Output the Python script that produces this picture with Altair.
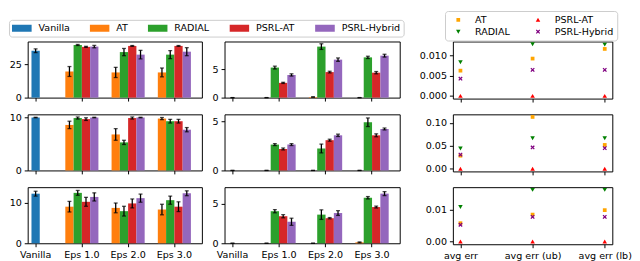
import altair as alt
import pandas as pd

# ---------------- data ----------------
categories = ["Vanilla", "Eps 1.0", "Eps 2.0", "Eps 3.0"]
eps_cats = ["Eps 1.0", "Eps 2.0", "Eps 3.0"]
methods = ["AT", "RADIAL", "PSRL-AT", "PSRL-Hybrid"]
bar_series = ["Vanilla", "AT", "RADIAL", "PSRL-AT", "PSRL-Hybrid"]
bar_colors = ["#1f77b4", "#ff7f0e", "#2ca02c", "#d62728", "#9467bd"]

metrics = ["avg err", "avg err (ub)", "avg err (lb)"]
pt_order = ["AT", "PSRL-AT", "RADIAL", "PSRL-Hybrid"]
pt_colors = ["#ffa500", "#ff0000", "#008000", "#800080"]
# small marker outlines inside a 20px symbol box (like matplotlib's legend handle)
SQ = "M-0.19,-0.19H0.19V0.19H-0.19Z"
TRI_UP = "M-0.23,0.19L0.23,0.19L0,-0.21Z"
TRI_DN = "M-0.23,-0.19L0.23,-0.19L0,0.21Z"
XMARK = ("M-0.22,-0.132L-0.132,-0.22L0,-0.088L0.132,-0.22L0.22,-0.132L0.088,0L0.22,0.132"
         "L0.132,0.22L0,0.088L-0.132,0.22L-0.22,0.132L-0.088,0Z")
pt_shapes = [SQ, TRI_UP, TRI_DN, XMARK]
PATCH = "M-1,-0.35H1V0.35H-1Z"

# left column, rows 1-3
L_vanilla = [35.0, 10.0, 12.2]
L_vanilla_err = [1.4, 0.05, 0.6]
L1_mean = {"AT": [19.5, 18.8, 18.8], "RADIAL": [39.3, 34.0, 32.1], "PSRL-AT": [37.9, 38.6, 38.6], "PSRL-Hybrid": [38.1, 32.1, 34.3]}
L1_err = {"AT": [3.7, 3.8, 3.3], "RADIAL": [0.4, 2.7, 3.0], "PSRL-AT": [0.4, 0.3, 0.3], "PSRL-Hybrid": [0.9, 3.2, 3.0]}
L2_mean = {"AT": [8.6, 6.8, 9.8], "RADIAL": [9.9, 5.3, 9.3], "PSRL-AT": [9.7, 9.9, 9.3], "PSRL-Hybrid": [10.0, 10.0, 7.7]}
L2_err = {"AT": [0.7, 1.1, 0.2], "RADIAL": [0.2, 0.4, 0.35], "PSRL-AT": [0.25, 0.2, 0.35], "PSRL-Hybrid": [0.05, 0.05, 0.4]}
L3_mean = {"AT": [9.0, 8.7, 8.3], "RADIAL": [12.4, 7.9, 10.6], "PSRL-AT": [10.2, 9.8, 9.0], "PSRL-Hybrid": [11.4, 11.1, 12.3]}
L3_err = {"AT": [1.3, 1.2, 1.3], "RADIAL": [0.6, 1.2, 1.0], "PSRL-AT": [1.1, 1.1, 1.2], "PSRL-Hybrid": [1.0, 1.0, 0.6]}

# middle column, rows 1-3
M_vanilla = [0.0, 0.0, 0.0]
M_vanilla_err = [0.0, 0.0, 0.0]
M1_mean = {"AT": [0.0, 0.1, 0.0], "RADIAL": [5.3, 9.0, 7.1], "PSRL-AT": [2.6, 4.5, 4.4], "PSRL-Hybrid": [4.0, 6.7, 7.4]}
M1_err = {"AT": [0.0, 0.05, 0.0], "RADIAL": [0.25, 0.5, 0.2], "PSRL-AT": [0.1, 0.15, 0.2], "PSRL-Hybrid": [0.2, 0.3, 0.25]}
M2_mean = {"AT": [0.0, 0.0, 0.0], "RADIAL": [2.65, 2.25, 4.94], "PSRL-AT": [2.2, 3.1, 3.6], "PSRL-Hybrid": [2.65, 3.6, 4.25]}
M2_err = {"AT": [0.0, 0.0, 0.0], "RADIAL": [0.1, 0.45, 0.44], "PSRL-AT": [0.1, 0.1, 0.15], "PSRL-Hybrid": [0.1, 0.12, 0.1]}
M3_mean = {"AT": [0.0, 0.0, 0.12], "RADIAL": [4.03, 3.6, 5.72], "PSRL-AT": [3.4, 3.15, 4.55], "PSRL-Hybrid": [2.7, 3.8, 6.24]}
M3_err = {"AT": [0.0, 0.0, 0.05], "RADIAL": [0.2, 0.6, 0.15], "PSRL-AT": [0.2, 0.08, 0.12], "PSRL-Hybrid": [0.45, 0.3, 0.25]}

L_ymax = [41.9, 10.6, 13.8]
L_ticks = [[0, 25], [0, 10], [0, 10]]
M_ymax = [9.9, 5.75, 7.05]
M_ticks = [[0, 5], [0, 5], [0, 5]]

# right column, rows 1-3
R1_vals = {"AT": [0.0063, 0.0093, 0.0117], "RADIAL": [0.0084, 0.0129, 0.0128], "PSRL-AT": [0.0, 0.0, 0.0], "PSRL-Hybrid": [0.0043, 0.0065, 0.0065]}
R2_vals = {"AT": [0.0286, 0.113, 0.052], "RADIAL": [0.0446, 0.0666, 0.0666], "PSRL-AT": [0.0, 0.0, 0.0], "PSRL-Hybrid": [0.031, 0.0466, 0.045]}
R3_vals = {"AT": [0.0058, 0.0085, 0.0099], "RADIAL": [0.0109, 0.0163, 0.0163], "PSRL-AT": [0.0, 0.0, 0.0], "PSRL-Hybrid": [0.0053, 0.0078, 0.0078]}
R_ticks = [[0, 0.005, 0.01], [0, 0.05, 0.1], [0, 0.01]]
R_fmt = [".3f", ".2f", ".2f"]

# ---------------- layout ----------------
WL, WM, WR = 177, 178, 162
H_BAR, H_PT = 57, 58
SPACER_W = 8
FONT = "DejaVu Sans"
FS = 9.7


def band_range(w):
    step = 0.2655 * w
    bw = 0.19 * w
    p = 1 - bw / step
    r0 = 0.0455 * w - bw / 2
    r1 = r0 + step * (4 - p)
    return [r0, r1], p


left_legend = alt.Legend(
    orient="none", legendX=-19, legendY=-22, direction="horizontal", columns=5,
    title=None, symbolType=PATCH, symbolSize=400, clipHeight=11,
    labelOffset=7, columnPadding=20, padding=3, strokeColor="#cccccc",
    fillColor="white", cornerRadius=3, symbolStrokeWidth=0,
    labelFont=FONT, labelFontSize=FS, labelColor="black",
)

right_legend = alt.Legend(
    orient="none", legendX=-8, legendY=-31, direction="horizontal", columns=2,
    title=None, symbolSize=400, clipHeight=11, labelOffset=7, columnPadding=18,
    rowPadding=1, padding=3.5, strokeColor="#cccccc", fillColor="white",
    cornerRadius=3, symbolStrokeWidth=0,
    labelFont=FONT, labelFontSize=FS, labelColor="black",
)


def bar_panel(van_mean, van_err, means, errs, ymax, yticks, width, show_labels, legend):
    van_df = pd.DataFrame({"cat": ["Vanilla"], "series": ["Vanilla"], "val": [van_mean],
                           "lo": [van_mean - van_err], "hi": [van_mean + van_err]})
    rows = []
    for m in methods:
        for c, v, e in zip(eps_cats, means[m], errs[m]):
            rows.append({"cat": c, "series": m, "val": v, "lo": v - e, "hi": v + e})
    eps_df = pd.DataFrame(rows)

    rng, pin = band_range(width)
    x = alt.X("cat:N", title=None,
              scale=alt.Scale(domain=categories, range=rng, paddingInner=pin, paddingOuter=0),
              axis=alt.Axis(labels=show_labels, labelAngle=0, title=None))
    yscale = alt.Scale(domain=[0, ymax], nice=False, zero=True)
    yaxis = alt.Axis(values=yticks, title=None)

    def Y(f):
        return alt.Y(f"{f}:Q", scale=yscale, axis=yaxis, title=None)

    color = alt.Color("series:N", scale=alt.Scale(domain=bar_series, range=bar_colors),
                      legend=legend)
    xo = alt.XOffset("series:N", scale=alt.Scale(domain=methods, paddingInner=0, paddingOuter=0))

    vb = alt.Chart(van_df)
    eb = alt.Chart(eps_df)
    cap = dict(orient="horizontal", size=4, thickness=1.3, color="black")
    layers = [
        vb.mark_bar(width=alt.RelativeBandSize(0.25)).encode(x=x, y=Y("val"), color=color),
        eb.mark_bar().encode(x=x, xOffset=xo, y=Y("val"), color=color),
        vb.mark_rule(color="black", strokeWidth=1.3).encode(x=x, y=Y("lo"), y2="hi:Q"),
        eb.mark_rule(color="black", strokeWidth=1.3).encode(x=x, xOffset=xo, y=Y("lo"), y2="hi:Q"),
        vb.mark_tick(**cap).encode(x=x, y=Y("lo")),
        vb.mark_tick(**cap).encode(x=x, y=Y("hi")),
        eb.mark_tick(**cap).encode(x=x, xOffset=xo, y=Y("lo")),
        eb.mark_tick(**cap).encode(x=x, xOffset=xo, y=Y("hi")),
    ]
    return alt.layer(*layers).properties(width=width, height=H_BAR)


def point_panel(vals, yticks, fmt, show_labels, legend):
    rows = []
    for m in methods:
        for k, v in zip(metrics, vals[m]):
            rows.append({"metric": k, "series": m, "val": v})
    df = pd.DataFrame(rows)
    vmax = max(max(v) for v in vals.values())
    return alt.Chart(df).mark_point(filled=True, size=400, opacity=1).encode(
        x=alt.X("metric:N", title=None,
                scale=alt.Scale(domain=metrics, type="point", padding=0.105),
                axis=alt.Axis(labels=show_labels, labelAngle=0, title=None)),
        y=alt.Y("val:Q", title=None,
                scale=alt.Scale(domain=[-0.05 * vmax, 1.05 * vmax], nice=False, zero=False),
                axis=alt.Axis(values=yticks, format=fmt, title=None)),
        color=alt.Color("series:N", scale=alt.Scale(domain=pt_order, range=pt_colors), legend=legend),
        shape=alt.Shape("series:N", scale=alt.Scale(domain=pt_order, range=pt_shapes), legend=legend),
    ).properties(width=WR, height=H_PT)


def spacer():
    return alt.Chart(pd.DataFrame({"a": [0]}), view=alt.ViewBackground(strokeOpacity=0)).mark_point(
        opacity=0).encode(x=alt.X("a:Q", axis=None), y=alt.Y("a:Q", axis=None)).properties(
        width=SPACER_W, height=H_BAR)


L_means = [L1_mean, L2_mean, L3_mean]
L_errs = [L1_err, L2_err, L3_err]
M_means = [M1_mean, M2_mean, M3_mean]
M_errs = [M1_err, M2_err, M3_err]
R_vals = [R1_vals, R2_vals, R3_vals]

cells = []
for i in range(3):
    last = i == 2
    cells.append(bar_panel(L_vanilla[i], L_vanilla_err[i], L_means[i], L_errs[i], L_ymax[i], L_ticks[i],
                           WL, last, left_legend if i == 0 else None))
    cells.append(bar_panel(M_vanilla[i], M_vanilla_err[i], M_means[i], M_errs[i], M_ymax[i], M_ticks[i],
                           WM, last, None))
    cells.append(spacer())
    cells.append(point_panel(R_vals[i], R_ticks[i], R_fmt[i], last, right_legend if i == 0 else None))

chart = alt.concat(*cells, columns=4, spacing={"row": 16, "column": 23}, bounds="flush").resolve_scale(
    color="independent", shape="independent", x="independent", y="independent", xOffset="independent"
).properties(padding=0, background="white").configure_view(
    stroke="black", strokeWidth=1
).configure_axis(
    domain=False, grid=False, tickColor="black", tickSize=3.5, tickWidth=1,
    labelColor="black", labelFont=FONT, labelFontSize=FS, labelPadding=3,
    labelFlush=False, labelOverlap=False,
)

chart.save("out.html", embed_options={"renderer": "svg", "actions": False})
